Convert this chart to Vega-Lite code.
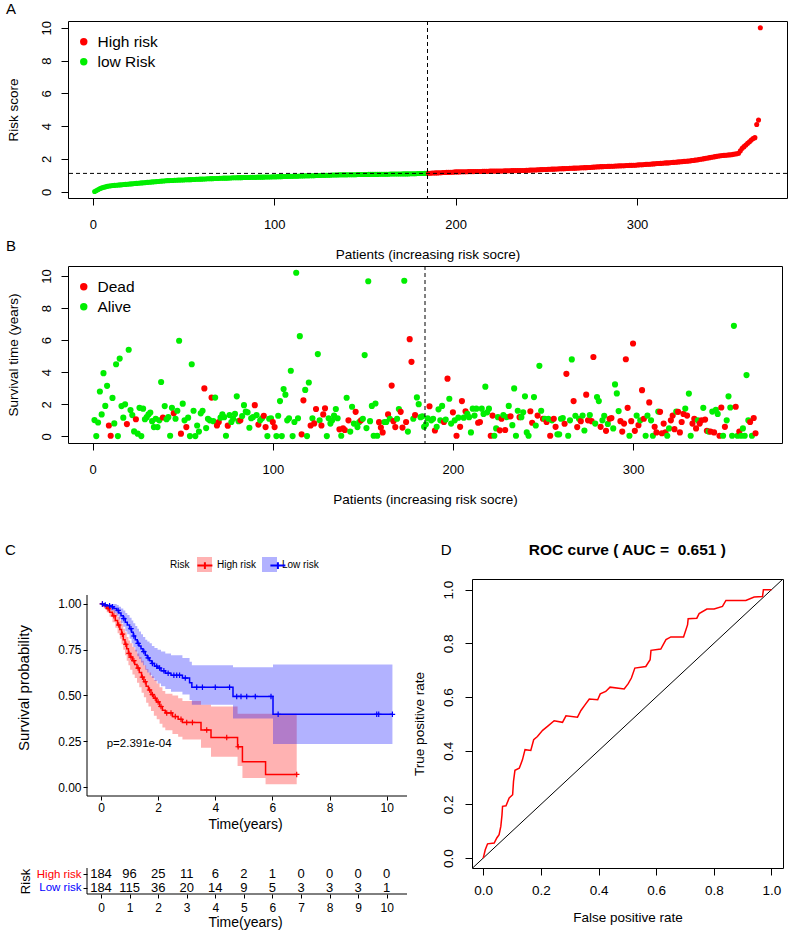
{
"$schema": "https://vega.github.io/schema/vega-lite/v6.json",
"padding": {"left": 4, "top": 1, "right": 2, "bottom": 2},
"config": {
  "font": "Liberation Sans",
  "view": {"stroke": null},
  "axis": {"grid": false, "domainColor": "black", "tickColor": "black", "labelColor": "black", "titleColor": "black", "titleFontWeight": "normal", "labelOverlap": false, "labelFlush": false},
  "legend": {"labelColor": "black", "titleColor": "black"},
  "title": {"color": "black"}
},
"datasets": {
"pts": [
{"i":1,"r":0.02,"g":"L","t":1.02,"s":"A"},{"i":2,"r":0.08,"g":"L","t":0.02,"s":"A"},{"i":3,"r":0.14,"g":"L","t":0.87,"s":"A"},{"i":4,"r":0.2,"g":"L","t":2.8,"s":"A"},{"i":5,"r":0.24,"g":"L","t":1.37,"s":"A"},
{"i":6,"r":0.27,"g":"L","t":3.94,"s":"A"},{"i":7,"r":0.3,"g":"L","t":1.9,"s":"A"},{"i":8,"r":0.33,"g":"L","t":3.15,"s":"A"},{"i":9,"r":0.35,"g":"L","t":0.68,"s":"D"},{"i":10,"r":0.37,"g":"L","t":0.04,"s":"D"},
{"i":11,"r":0.38,"g":"L","t":2.4,"s":"A"},{"i":12,"r":0.39,"g":"L","t":0.81,"s":"A"},{"i":13,"r":0.4,"g":"L","t":4.5,"s":"A"},{"i":14,"r":0.41,"g":"L","t":0.02,"s":"A"},{"i":15,"r":0.42,"g":"L","t":4.85,"s":"A"},
{"i":16,"r":0.43,"g":"L","t":1.89,"s":"A"},{"i":17,"r":0.44,"g":"L","t":1.17,"s":"A"},{"i":18,"r":0.45,"g":"L","t":2.0,"s":"A"},{"i":19,"r":0.46,"g":"L","t":0.77,"s":"D"},{"i":20,"r":0.47,"g":"L","t":5.4,"s":"A"},
{"i":21,"r":0.48,"g":"L","t":1.64,"s":"A"},{"i":22,"r":0.49,"g":"L","t":1.33,"s":"A"},{"i":23,"r":0.5,"g":"L","t":0.31,"s":"A"},{"i":24,"r":0.51,"g":"L","t":1.07,"s":"D"},{"i":25,"r":0.52,"g":"L","t":0.17,"s":"A"},
{"i":26,"r":0.53,"g":"L","t":1.78,"s":"A"},{"i":27,"r":0.54,"g":"L","t":0.02,"s":"A"},{"i":28,"r":0.55,"g":"L","t":1.73,"s":"A"},{"i":29,"r":0.56,"g":"L","t":1.07,"s":"A"},{"i":30,"r":0.57,"g":"L","t":1.2,"s":"A"},
{"i":31,"r":0.58,"g":"L","t":1.37,"s":"A"},{"i":32,"r":0.59,"g":"L","t":1.49,"s":"A"},{"i":33,"r":0.6,"g":"L","t":0.95,"s":"A"},{"i":34,"r":0.61,"g":"L","t":0.58,"s":"A"},{"i":35,"r":0.62,"g":"L","t":1.1,"s":"A"},
{"i":36,"r":0.63,"g":"L","t":0.58,"s":"A"},{"i":37,"r":0.64,"g":"L","t":1.0,"s":"A"},{"i":38,"r":0.65,"g":"L","t":3.39,"s":"A"},{"i":39,"r":0.66,"g":"L","t":1.18,"s":"D"},{"i":40,"r":0.67,"g":"L","t":1.89,"s":"A"},
{"i":41,"r":0.68,"g":"L","t":1.07,"s":"A"},{"i":42,"r":0.68,"g":"L","t":1.2,"s":"A"},{"i":43,"r":0.69,"g":"L","t":0.04,"s":"A"},{"i":44,"r":0.69,"g":"L","t":1.78,"s":"A"},{"i":45,"r":0.7,"g":"L","t":1.44,"s":"D"},
{"i":46,"r":0.7,"g":"L","t":1.1,"s":"A"},{"i":47,"r":0.71,"g":"L","t":1.6,"s":"A"},{"i":48,"r":0.71,"g":"L","t":5.96,"s":"A"},{"i":49,"r":0.72,"g":"L","t":0.17,"s":"D"},{"i":50,"r":0.72,"g":"L","t":2.04,"s":"A"},
{"i":51,"r":0.73,"g":"L","t":1.0,"s":"A"},{"i":52,"r":0.73,"g":"L","t":0.58,"s":"D"},{"i":53,"r":0.74,"g":"L","t":1.17,"s":"A"},{"i":54,"r":0.74,"g":"L","t":0.02,"s":"A"},{"i":55,"r":0.75,"g":"L","t":4.5,"s":"A"},
{"i":56,"r":0.75,"g":"L","t":1.6,"s":"A"},{"i":57,"r":0.76,"g":"L","t":0.02,"s":"A"},{"i":58,"r":0.76,"g":"L","t":0.68,"s":"A"},{"i":59,"r":0.77,"g":"L","t":0.3,"s":"A"},{"i":60,"r":0.77,"g":"L","t":1.44,"s":"A"},
{"i":61,"r":0.78,"g":"L","t":1.6,"s":"A"},{"i":62,"r":0.78,"g":"L","t":2.99,"s":"D"},{"i":63,"r":0.79,"g":"L","t":0.52,"s":"A"},{"i":64,"r":0.79,"g":"L","t":1.1,"s":"A"},{"i":65,"r":0.8,"g":"L","t":1.0,"s":"A"},
{"i":66,"r":0.8,"g":"L","t":2.42,"s":"D"},{"i":67,"r":0.81,"g":"L","t":0.95,"s":"A"},{"i":68,"r":0.81,"g":"L","t":2.42,"s":"A"},{"i":69,"r":0.81,"g":"L","t":0.68,"s":"D"},{"i":70,"r":0.82,"g":"L","t":0.9,"s":"D"},
{"i":71,"r":0.82,"g":"L","t":1.17,"s":"A"},{"i":72,"r":0.83,"g":"L","t":1.37,"s":"A"},{"i":73,"r":0.83,"g":"L","t":1.2,"s":"A"},{"i":74,"r":0.83,"g":"L","t":0.04,"s":"A"},{"i":75,"r":0.84,"g":"L","t":0.67,"s":"D"},
{"i":76,"r":0.84,"g":"L","t":1.33,"s":"A"},{"i":77,"r":0.85,"g":"L","t":0.9,"s":"A"},{"i":78,"r":0.85,"g":"L","t":1.1,"s":"A"},{"i":79,"r":0.85,"g":"L","t":1.4,"s":"A"},{"i":80,"r":0.86,"g":"L","t":2.5,"s":"A"},
{"i":81,"r":0.86,"g":"L","t":0.95,"s":"A"},{"i":82,"r":0.86,"g":"L","t":1.0,"s":"D"},{"i":83,"r":0.87,"g":"L","t":1.27,"s":"A"},{"i":84,"r":0.87,"g":"L","t":1.95,"s":"A"},{"i":85,"r":0.87,"g":"L","t":1.55,"s":"A"},
{"i":86,"r":0.87,"g":"L","t":1.5,"s":"A"},{"i":87,"r":0.88,"g":"L","t":0.54,"s":"A"},{"i":88,"r":0.88,"g":"L","t":1.13,"s":"A"},{"i":89,"r":0.88,"g":"L","t":1.2,"s":"A"},{"i":90,"r":0.88,"g":"L","t":1.95,"s":"D"},
{"i":91,"r":0.89,"g":"L","t":1.33,"s":"A"},{"i":92,"r":0.89,"g":"L","t":0.74,"s":"D"},{"i":93,"r":0.89,"g":"L","t":1.0,"s":"A"},{"i":94,"r":0.89,"g":"L","t":1.13,"s":"A"},{"i":95,"r":0.9,"g":"L","t":1.29,"s":"D"},
{"i":96,"r":0.9,"g":"L","t":0.58,"s":"D"},{"i":97,"r":0.9,"g":"L","t":0.02,"s":"A"},{"i":98,"r":0.9,"g":"L","t":1.1,"s":"A"},{"i":99,"r":0.91,"g":"L","t":1.13,"s":"A"},{"i":100,"r":0.91,"g":"L","t":0.9,"s":"D"},
{"i":101,"r":0.91,"g":"L","t":0.58,"s":"D"},{"i":102,"r":0.92,"g":"L","t":0.02,"s":"A"},{"i":103,"r":0.92,"g":"L","t":1.29,"s":"A"},{"i":104,"r":0.92,"g":"L","t":2.2,"s":"A"},{"i":105,"r":0.93,"g":"L","t":0.02,"s":"A"},
{"i":106,"r":0.93,"g":"L","t":2.95,"s":"A"},{"i":107,"r":0.93,"g":"L","t":2.6,"s":"A"},{"i":108,"r":0.94,"g":"L","t":1.0,"s":"A"},{"i":109,"r":0.94,"g":"L","t":1.13,"s":"A"},{"i":110,"r":0.94,"g":"L","t":4.09,"s":"A"},
{"i":111,"r":0.95,"g":"L","t":0.02,"s":"A"},{"i":112,"r":0.95,"g":"L","t":0.9,"s":"A"},{"i":113,"r":0.95,"g":"L","t":10.2,"s":"A"},{"i":114,"r":0.96,"g":"L","t":1.13,"s":"A"},{"i":115,"r":0.96,"g":"L","t":6.25,"s":"A"},
{"i":116,"r":0.96,"g":"L","t":0.13,"s":"D"},{"i":117,"r":0.97,"g":"L","t":2.25,"s":"D"},{"i":118,"r":0.97,"g":"L","t":2.9,"s":"A"},{"i":119,"r":0.97,"g":"L","t":0.02,"s":"A"},{"i":120,"r":0.98,"g":"L","t":3.36,"s":"A"},
{"i":121,"r":0.98,"g":"L","t":0.68,"s":"D"},{"i":122,"r":0.98,"g":"L","t":1.13,"s":"A"},{"i":123,"r":0.99,"g":"L","t":0.81,"s":"D"},{"i":124,"r":0.99,"g":"L","t":1.71,"s":"D"},{"i":125,"r":0.99,"g":"L","t":5.13,"s":"A"},
{"i":126,"r":1.0,"g":"L","t":1.0,"s":"A"},{"i":127,"r":1.0,"g":"L","t":0.68,"s":"D"},{"i":128,"r":1.0,"g":"L","t":1.37,"s":"D"},{"i":129,"r":1.01,"g":"L","t":1.75,"s":"D"},{"i":130,"r":1.01,"g":"L","t":0.02,"s":"A"},
{"i":131,"r":1.01,"g":"L","t":1.13,"s":"A"},{"i":132,"r":1.02,"g":"L","t":0.8,"s":"A"},{"i":133,"r":1.02,"g":"L","t":1.0,"s":"A"},{"i":134,"r":1.02,"g":"L","t":1.3,"s":"A"},{"i":135,"r":1.02,"g":"L","t":1.71,"s":"A"},
{"i":136,"r":1.03,"g":"L","t":1.13,"s":"A"},{"i":137,"r":1.03,"g":"L","t":0.44,"s":"D"},{"i":138,"r":1.03,"g":"L","t":0.04,"s":"A"},{"i":139,"r":1.03,"g":"L","t":0.5,"s":"D"},{"i":140,"r":1.03,"g":"L","t":0.4,"s":"D"},
{"i":141,"r":1.04,"g":"L","t":2.41,"s":"A"},{"i":142,"r":1.04,"g":"L","t":1.0,"s":"D"},{"i":143,"r":1.04,"g":"L","t":0.3,"s":"A"},{"i":144,"r":1.04,"g":"L","t":1.85,"s":"A"},{"i":145,"r":1.04,"g":"L","t":0.8,"s":"A"},
{"i":146,"r":1.05,"g":"L","t":1.53,"s":"D"},{"i":147,"r":1.05,"g":"L","t":0.58,"s":"A"},{"i":148,"r":1.05,"g":"L","t":0.9,"s":"A"},{"i":149,"r":1.05,"g":"L","t":1.0,"s":"D"},{"i":150,"r":1.05,"g":"L","t":1.1,"s":"A"},
{"i":151,"r":1.05,"g":"L","t":5.07,"s":"A"},{"i":152,"r":1.06,"g":"L","t":0.52,"s":"A"},{"i":153,"r":1.06,"g":"L","t":9.67,"s":"A"},{"i":154,"r":1.06,"g":"L","t":0.95,"s":"A"},{"i":155,"r":1.06,"g":"L","t":1.9,"s":"A"},
{"i":156,"r":1.06,"g":"L","t":0.04,"s":"A"},{"i":157,"r":1.06,"g":"L","t":2.05,"s":"A"},{"i":158,"r":1.07,"g":"L","t":0.04,"s":"A"},{"i":159,"r":1.07,"g":"L","t":0.89,"s":"D"},{"i":160,"r":1.07,"g":"L","t":0.55,"s":"D"},
{"i":161,"r":1.07,"g":"L","t":0.25,"s":"D"},{"i":162,"r":1.07,"g":"L","t":0.9,"s":"A"},{"i":163,"r":1.07,"g":"L","t":0.9,"s":"A"},{"i":164,"r":1.08,"g":"L","t":1.37,"s":"D"},{"i":165,"r":1.08,"g":"L","t":1.1,"s":"A"},
{"i":166,"r":1.08,"g":"L","t":3.17,"s":"D"},{"i":167,"r":1.08,"g":"L","t":0.95,"s":"D"},{"i":168,"r":1.08,"g":"L","t":0.58,"s":"D"},{"i":169,"r":1.08,"g":"L","t":1.1,"s":"A"},{"i":170,"r":1.08,"g":"L","t":1.71,"s":"A"},
{"i":171,"r":1.09,"g":"L","t":1.53,"s":"D"},{"i":172,"r":1.09,"g":"L","t":0.55,"s":"D"},{"i":173,"r":1.09,"g":"L","t":9.7,"s":"A"},{"i":174,"r":1.09,"g":"L","t":0.9,"s":"D"},{"i":175,"r":1.1,"g":"L","t":0.3,"s":"A"},
{"i":176,"r":1.1,"g":"L","t":6.06,"s":"D"},{"i":177,"r":1.1,"g":"L","t":4.65,"s":"D"},{"i":178,"r":1.1,"g":"L","t":1.1,"s":"A"},{"i":179,"r":1.11,"g":"L","t":1.33,"s":"D"},{"i":180,"r":1.11,"g":"L","t":2.43,"s":"A"},
{"i":181,"r":1.11,"g":"L","t":2.01,"s":"A"},{"i":182,"r":1.11,"g":"L","t":1.2,"s":"A"},{"i":183,"r":1.12,"g":"L","t":1.25,"s":"A"},{"i":184,"r":1.12,"g":"L","t":0.6,"s":"A"},
{"i":185,"r":1.13,"g":"H","t":0.76,"s":"A"},{"i":186,"r":1.13,"g":"H","t":1.13,"s":"A"},{"i":187,"r":1.14,"g":"H","t":1.88,"s":"D"},{"i":188,"r":1.14,"g":"H","t":1.0,"s":"A"},{"i":189,"r":1.15,"g":"H","t":1.1,"s":"A"},
{"i":190,"r":1.15,"g":"H","t":0.37,"s":"D"},{"i":191,"r":1.16,"g":"H","t":0.6,"s":"A"},{"i":192,"r":1.16,"g":"H","t":1.69,"s":"A"},{"i":193,"r":1.17,"g":"H","t":1.0,"s":"A"},{"i":194,"r":1.17,"g":"H","t":1.9,"s":"A"},
{"i":195,"r":1.18,"g":"H","t":0.9,"s":"D"},{"i":196,"r":1.18,"g":"H","t":1.05,"s":"A"},{"i":197,"r":1.19,"g":"H","t":3.6,"s":"D"},{"i":198,"r":1.19,"g":"H","t":2.35,"s":"A"},{"i":199,"r":1.2,"g":"H","t":0.8,"s":"A"},
{"i":200,"r":1.21,"g":"H","t":1.5,"s":"D"},{"i":201,"r":1.21,"g":"H","t":1.0,"s":"A"},{"i":202,"r":1.21,"g":"H","t":0.04,"s":"D"},{"i":203,"r":1.22,"g":"H","t":1.17,"s":"A"},{"i":204,"r":1.22,"g":"H","t":0.6,"s":"D"},
{"i":205,"r":1.22,"g":"H","t":2.2,"s":"D"},{"i":206,"r":1.22,"g":"H","t":1.17,"s":"A"},{"i":207,"r":1.23,"g":"H","t":1.57,"s":"D"},{"i":208,"r":1.23,"g":"H","t":1.4,"s":"A"},{"i":209,"r":1.23,"g":"H","t":1.2,"s":"A"},
{"i":210,"r":1.23,"g":"H","t":0.25,"s":"A"},{"i":211,"r":1.24,"g":"H","t":1.73,"s":"A"},{"i":212,"r":1.24,"g":"H","t":1.3,"s":"A"},{"i":213,"r":1.24,"g":"H","t":1.73,"s":"A"},{"i":214,"r":1.24,"g":"H","t":0.85,"s":"D"},
{"i":215,"r":1.25,"g":"H","t":0.9,"s":"D"},{"i":216,"r":1.25,"g":"H","t":1.73,"s":"A"},{"i":217,"r":1.25,"g":"H","t":1.4,"s":"A"},{"i":218,"r":1.25,"g":"H","t":3.1,"s":"A"},{"i":219,"r":1.26,"g":"H","t":1.5,"s":"A"},
{"i":220,"r":1.26,"g":"H","t":1.73,"s":"A"},{"i":221,"r":1.26,"g":"H","t":0.04,"s":"D"},{"i":222,"r":1.26,"g":"H","t":1.3,"s":"D"},{"i":223,"r":1.27,"g":"H","t":0.04,"s":"A"},{"i":224,"r":1.27,"g":"H","t":0.5,"s":"A"},
{"i":225,"r":1.27,"g":"H","t":1.2,"s":"A"},{"i":226,"r":1.27,"g":"H","t":0.38,"s":"D"},{"i":227,"r":1.28,"g":"H","t":1.1,"s":"D"},{"i":228,"r":1.28,"g":"H","t":1.33,"s":"A"},{"i":229,"r":1.28,"g":"H","t":0.4,"s":"D"},
{"i":230,"r":1.28,"g":"H","t":1.2,"s":"A"},{"i":231,"r":1.29,"g":"H","t":1.9,"s":"A"},{"i":232,"r":1.29,"g":"H","t":1.25,"s":"D"},{"i":233,"r":1.29,"g":"H","t":0.7,"s":"A"},{"i":234,"r":1.29,"g":"H","t":2.99,"s":"A"},
{"i":235,"r":1.3,"g":"H","t":0.04,"s":"A"},{"i":236,"r":1.3,"g":"H","t":1.6,"s":"A"},{"i":237,"r":1.3,"g":"H","t":1.2,"s":"D"},{"i":238,"r":1.3,"g":"H","t":1.2,"s":"A"},{"i":239,"r":1.31,"g":"H","t":1.5,"s":"A"},
{"i":240,"r":1.31,"g":"H","t":2.5,"s":"A"},{"i":241,"r":1.32,"g":"H","t":0.25,"s":"A"},{"i":242,"r":1.32,"g":"H","t":0.04,"s":"A"},{"i":243,"r":1.33,"g":"H","t":1.57,"s":"D"},{"i":244,"r":1.33,"g":"H","t":0.85,"s":"D"},
{"i":245,"r":1.34,"g":"H","t":2.45,"s":"A"},{"i":246,"r":1.34,"g":"H","t":0.68,"s":"A"},{"i":247,"r":1.35,"g":"H","t":1.3,"s":"D"},{"i":248,"r":1.35,"g":"H","t":4.4,"s":"A"},{"i":249,"r":1.36,"g":"H","t":1.6,"s":"A"},
{"i":250,"r":1.36,"g":"H","t":1.1,"s":"D"},{"i":251,"r":1.37,"g":"H","t":1.1,"s":"A"},{"i":252,"r":1.37,"g":"H","t":0.9,"s":"D"},{"i":253,"r":1.38,"g":"H","t":1.1,"s":"A"},{"i":254,"r":1.38,"g":"H","t":0.04,"s":"D"},
{"i":255,"r":1.39,"g":"H","t":1.0,"s":"A"},{"i":256,"r":1.39,"g":"H","t":1.1,"s":"D"},{"i":257,"r":1.4,"g":"H","t":0.6,"s":"D"},{"i":258,"r":1.4,"g":"H","t":0.13,"s":"A"},{"i":259,"r":1.41,"g":"H","t":0.13,"s":"A"},
{"i":260,"r":1.41,"g":"H","t":1.1,"s":"A"},{"i":261,"r":1.42,"g":"H","t":1.15,"s":"A"},{"i":262,"r":1.42,"g":"H","t":0.79,"s":"D"},{"i":263,"r":1.43,"g":"H","t":3.9,"s":"D"},{"i":264,"r":1.43,"g":"H","t":0.04,"s":"A"},
{"i":265,"r":1.44,"g":"H","t":1.0,"s":"A"},{"i":266,"r":1.44,"g":"H","t":4.8,"s":"A"},{"i":267,"r":1.45,"g":"H","t":2.2,"s":"D"},{"i":268,"r":1.45,"g":"H","t":1.29,"s":"A"},{"i":269,"r":1.46,"g":"H","t":0.58,"s":"D"},
{"i":270,"r":1.46,"g":"H","t":1.1,"s":"A"},{"i":271,"r":1.47,"g":"H","t":0.95,"s":"D"},{"i":272,"r":1.47,"g":"H","t":1.3,"s":"A"},{"i":273,"r":1.48,"g":"H","t":0.37,"s":"A"},{"i":274,"r":1.48,"g":"H","t":2.6,"s":"D"},
{"i":275,"r":1.49,"g":"H","t":1.0,"s":"D"},{"i":276,"r":1.5,"g":"H","t":1.33,"s":"A"},{"i":277,"r":1.51,"g":"H","t":0.95,"s":"D"},{"i":278,"r":1.52,"g":"H","t":4.95,"s":"D"},{"i":279,"r":1.52,"g":"H","t":0.8,"s":"A"},
{"i":280,"r":1.53,"g":"H","t":2.45,"s":"A"},{"i":281,"r":1.53,"g":"H","t":2.2,"s":"A"},{"i":282,"r":1.54,"g":"H","t":0.6,"s":"D"},{"i":283,"r":1.54,"g":"H","t":1.0,"s":"A"},{"i":284,"r":1.55,"g":"H","t":1.29,"s":"A"},
{"i":285,"r":1.55,"g":"H","t":0.35,"s":"D"},{"i":286,"r":1.56,"g":"H","t":0.78,"s":"A"},{"i":287,"r":1.56,"g":"H","t":1.1,"s":"D"},{"i":288,"r":1.57,"g":"H","t":1.15,"s":"D"},{"i":289,"r":1.57,"g":"H","t":0.5,"s":"A"},
{"i":290,"r":1.58,"g":"H","t":3.24,"s":"A"},{"i":291,"r":1.58,"g":"H","t":2.68,"s":"A"},{"i":292,"r":1.59,"g":"H","t":1.58,"s":"A"},{"i":293,"r":1.59,"g":"H","t":0.95,"s":"D"},{"i":294,"r":1.6,"g":"H","t":0.3,"s":"D"},
{"i":295,"r":1.6,"g":"H","t":0.8,"s":"D"},{"i":296,"r":1.61,"g":"H","t":4.81,"s":"D"},{"i":297,"r":1.61,"g":"H","t":1.78,"s":"D"},{"i":298,"r":1.62,"g":"H","t":0.04,"s":"A"},{"i":299,"r":1.62,"g":"H","t":0.95,"s":"D"},
{"i":300,"r":1.63,"g":"H","t":5.79,"s":"D"},{"i":301,"r":1.64,"g":"H","t":0.35,"s":"D"},{"i":302,"r":1.65,"g":"H","t":1.3,"s":"A"},{"i":303,"r":1.65,"g":"H","t":0.7,"s":"D"},{"i":304,"r":1.66,"g":"H","t":1.0,"s":"A"},
{"i":305,"r":1.67,"g":"H","t":2.88,"s":"D"},{"i":306,"r":1.68,"g":"H","t":1.1,"s":"D"},{"i":307,"r":1.68,"g":"H","t":0.04,"s":"A"},{"i":308,"r":1.69,"g":"H","t":1.3,"s":"A"},{"i":309,"r":1.7,"g":"H","t":2.12,"s":"D"},
{"i":310,"r":1.71,"g":"H","t":1.0,"s":"A"},{"i":311,"r":1.72,"g":"H","t":0.04,"s":"A"},{"i":312,"r":1.72,"g":"H","t":0.6,"s":"D"},{"i":313,"r":1.73,"g":"H","t":0.25,"s":"D"},{"i":314,"r":1.74,"g":"H","t":1.55,"s":"A"},
{"i":315,"r":1.75,"g":"H","t":1.53,"s":"D"},{"i":316,"r":1.76,"g":"H","t":0.2,"s":"D"},{"i":317,"r":1.76,"g":"H","t":0.8,"s":"D"},{"i":318,"r":1.77,"g":"H","t":0.25,"s":"D"},{"i":319,"r":1.78,"g":"H","t":0.04,"s":"A"},
{"i":320,"r":1.79,"g":"H","t":0.5,"s":"A"},{"i":321,"r":1.8,"g":"H","t":1.0,"s":"D"},{"i":322,"r":1.81,"g":"H","t":1.3,"s":"D"},{"i":323,"r":1.82,"g":"H","t":0.45,"s":"D"},{"i":324,"r":1.83,"g":"H","t":1.55,"s":"A"},
{"i":325,"r":1.84,"g":"H","t":1.53,"s":"D"},{"i":326,"r":1.85,"g":"H","t":0.25,"s":"D"},{"i":327,"r":1.86,"g":"H","t":0.9,"s":"D"},{"i":328,"r":1.87,"g":"H","t":1.4,"s":"D"},{"i":329,"r":1.88,"g":"H","t":1.74,"s":"A"},
{"i":330,"r":1.9,"g":"H","t":1.3,"s":"D"},{"i":331,"r":1.91,"g":"H","t":2.67,"s":"A"},{"i":332,"r":1.93,"g":"H","t":0.04,"s":"A"},{"i":333,"r":1.94,"g":"H","t":0.8,"s":"D"},{"i":334,"r":1.96,"g":"H","t":1.1,"s":"D"},
{"i":335,"r":1.98,"g":"H","t":0.5,"s":"D"},{"i":336,"r":2.0,"g":"H","t":1.0,"s":"A"},{"i":337,"r":2.02,"g":"H","t":0.8,"s":"D"},{"i":338,"r":2.04,"g":"H","t":1.0,"s":"D"},{"i":339,"r":2.06,"g":"H","t":1.78,"s":"A"},
{"i":340,"r":2.08,"g":"H","t":1.05,"s":"D"},{"i":341,"r":2.1,"g":"H","t":0.35,"s":"D"},{"i":342,"r":2.12,"g":"H","t":0.3,"s":"A"},{"i":343,"r":2.14,"g":"H","t":0.3,"s":"D"},{"i":344,"r":2.16,"g":"H","t":1.55,"s":"A"},
{"i":345,"r":2.18,"g":"H","t":0.25,"s":"D"},{"i":346,"r":2.2,"g":"H","t":1.65,"s":"A"},{"i":347,"r":2.21,"g":"H","t":1.4,"s":"A"},{"i":348,"r":2.22,"g":"H","t":0.04,"s":"D"},{"i":349,"r":2.23,"g":"H","t":1.8,"s":"D"},
{"i":350,"r":2.24,"g":"H","t":0.04,"s":"A"},{"i":351,"r":2.25,"g":"H","t":0.6,"s":"D"},{"i":352,"r":2.26,"g":"H","t":1.0,"s":"A"},{"i":353,"r":2.28,"g":"H","t":2.5,"s":"A"},{"i":354,"r":2.3,"g":"H","t":1.8,"s":"A"},
{"i":355,"r":2.32,"g":"H","t":0.04,"s":"A"},{"i":356,"r":2.35,"g":"H","t":6.89,"s":"A"},{"i":357,"r":2.5,"g":"H","t":1.85,"s":"D"},{"i":358,"r":2.65,"g":"H","t":0.04,"s":"A"},{"i":359,"r":2.75,"g":"H","t":0.3,"s":"D"},
{"i":360,"r":2.85,"g":"H","t":0.04,"s":"A"},{"i":361,"r":2.95,"g":"H","t":0.5,"s":"A"},{"i":362,"r":3.05,"g":"H","t":0.04,"s":"A"},{"i":363,"r":3.15,"g":"H","t":3.82,"s":"A"},{"i":364,"r":3.25,"g":"H","t":1.0,"s":"A"},
{"i":365,"r":3.3,"g":"H","t":0.9,"s":"D"},{"i":366,"r":4.1,"g":"H","t":0.04,"s":"A"},{"i":367,"r":4.37,"g":"H","t":1.15,"s":"D"},{"i":368,"r":10.0,"g":"H","t":0.2,"s":"D"}
],
"km": [
{"grp":"High risk","t":0,"s":1,"lo":1,"hi":1},{"grp":"High risk","t":0.1,"s":0.99,"lo":0.975,"hi":1},{"grp":"High risk","t":0.2,"s":0.975,"lo":0.955,"hi":0.995},
{"grp":"High risk","t":0.3,"s":0.955,"lo":0.93,"hi":0.985},{"grp":"High risk","t":0.4,"s":0.935,"lo":0.9,"hi":0.97},{"grp":"High risk","t":0.5,"s":0.91,"lo":0.87,"hi":0.95},
{"grp":"High risk","t":0.58,"s":0.885,"lo":0.84,"hi":0.93},{"grp":"High risk","t":0.66,"s":0.86,"lo":0.81,"hi":0.91},{"grp":"High risk","t":0.72,"s":0.835,"lo":0.78,"hi":0.89},
{"grp":"High risk","t":0.78,"s":0.805,"lo":0.75,"hi":0.865},{"grp":"High risk","t":0.84,"s":0.78,"lo":0.72,"hi":0.845},{"grp":"High risk","t":0.9,"s":0.755,"lo":0.69,"hi":0.82},
{"grp":"High risk","t":0.96,"s":0.73,"lo":0.665,"hi":0.8},{"grp":"High risk","t":1.02,"s":0.71,"lo":0.64,"hi":0.785},{"grp":"High risk","t":1.1,"s":0.69,"lo":0.615,"hi":0.765},
{"grp":"High risk","t":1.18,"s":0.67,"lo":0.595,"hi":0.75},{"grp":"High risk","t":1.26,"s":0.65,"lo":0.57,"hi":0.73},{"grp":"High risk","t":1.34,"s":0.625,"lo":0.545,"hi":0.71},
{"grp":"High risk","t":1.42,"s":0.6,"lo":0.515,"hi":0.69},{"grp":"High risk","t":1.5,"s":0.575,"lo":0.49,"hi":0.665},{"grp":"High risk","t":1.58,"s":0.55,"lo":0.46,"hi":0.645},
{"grp":"High risk","t":1.66,"s":0.53,"lo":0.44,"hi":0.625},{"grp":"High risk","t":1.75,"s":0.505,"lo":0.415,"hi":0.605},{"grp":"High risk","t":1.85,"s":0.485,"lo":0.39,"hi":0.585},
{"grp":"High risk","t":1.95,"s":0.465,"lo":0.37,"hi":0.565},{"grp":"High risk","t":2.05,"s":0.44,"lo":0.345,"hi":0.545},{"grp":"High risk","t":2.15,"s":0.42,"lo":0.325,"hi":0.525},
{"grp":"High risk","t":2.25,"s":0.405,"lo":0.31,"hi":0.51},{"grp":"High risk","t":2.5,"s":0.385,"lo":0.29,"hi":0.5},{"grp":"High risk","t":2.7,"s":0.37,"lo":0.275,"hi":0.485},
{"grp":"High risk","t":2.85,"s":0.353,"lo":0.26,"hi":0.47},{"grp":"High risk","t":3.5,"s":0.312,"lo":0.215,"hi":0.45},{"grp":"High risk","t":3.85,"s":0.27,"lo":0.165,"hi":0.44},
{"grp":"High risk","t":4.78,"s":0.22,"lo":0.115,"hi":0.4},{"grp":"High risk","t":4.95,"s":0.138,"lo":0.05,"hi":0.4},{"grp":"High risk","t":5.76,"s":0.069,"lo":0.015,"hi":0.4},
{"grp":"High risk","t":6.85,"s":0.069,"lo":0.015,"hi":0.4},
{"grp":"Low risk","t":0,"s":1,"lo":1,"hi":1},{"grp":"Low risk","t":0.1,"s":0.995,"lo":0.985,"hi":1},{"grp":"Low risk","t":0.2,"s":0.99,"lo":0.975,"hi":1},
{"grp":"Low risk","t":0.35,"s":0.985,"lo":0.965,"hi":1},{"grp":"Low risk","t":0.45,"s":0.975,"lo":0.95,"hi":1},{"grp":"Low risk","t":0.55,"s":0.965,"lo":0.935,"hi":0.995},
{"grp":"Low risk","t":0.62,"s":0.95,"lo":0.915,"hi":0.985},{"grp":"Low risk","t":0.7,"s":0.935,"lo":0.895,"hi":0.975},{"grp":"Low risk","t":0.78,"s":0.92,"lo":0.875,"hi":0.965},
{"grp":"Low risk","t":0.85,"s":0.9,"lo":0.85,"hi":0.95},{"grp":"Low risk","t":0.92,"s":0.885,"lo":0.835,"hi":0.94},{"grp":"Low risk","t":1.0,"s":0.865,"lo":0.81,"hi":0.925},
{"grp":"Low risk","t":1.07,"s":0.845,"lo":0.785,"hi":0.91},{"grp":"Low risk","t":1.13,"s":0.825,"lo":0.765,"hi":0.895},{"grp":"Low risk","t":1.2,"s":0.805,"lo":0.74,"hi":0.88},
{"grp":"Low risk","t":1.27,"s":0.785,"lo":0.715,"hi":0.865},{"grp":"Low risk","t":1.33,"s":0.77,"lo":0.7,"hi":0.85},{"grp":"Low risk","t":1.4,"s":0.755,"lo":0.68,"hi":0.835},
{"grp":"Low risk","t":1.47,"s":0.74,"lo":0.665,"hi":0.82},{"grp":"Low risk","t":1.55,"s":0.72,"lo":0.64,"hi":0.805},{"grp":"Low risk","t":1.62,"s":0.705,"lo":0.625,"hi":0.795},
{"grp":"Low risk","t":1.7,"s":0.69,"lo":0.61,"hi":0.785},{"grp":"Low risk","t":1.78,"s":0.675,"lo":0.595,"hi":0.77},{"grp":"Low risk","t":1.87,"s":0.66,"lo":0.58,"hi":0.76},
{"grp":"Low risk","t":1.98,"s":0.65,"lo":0.565,"hi":0.75},{"grp":"Low risk","t":2.1,"s":0.635,"lo":0.55,"hi":0.74},{"grp":"Low risk","t":2.25,"s":0.622,"lo":0.535,"hi":0.73},
{"grp":"Low risk","t":2.45,"s":0.61,"lo":0.52,"hi":0.72},{"grp":"Low risk","t":2.85,"s":0.595,"lo":0.505,"hi":0.705},{"grp":"Low risk","t":3.1,"s":0.57,"lo":0.475,"hi":0.685},
{"grp":"Low risk","t":3.18,"s":0.545,"lo":0.45,"hi":0.665},{"grp":"Low risk","t":4.62,"s":0.495,"lo":0.375,"hi":0.655},{"grp":"Low risk","t":6.02,"s":0.397,"lo":0.235,"hi":0.67},
{"grp":"Low risk","t":10.2,"s":0.397,"lo":0.235,"hi":0.67}
],
"cens": [
{"grp":"High risk","t":0.05,"s":1.0},{"grp":"High risk","t":0.25,"s":0.975},{"grp":"High risk","t":0.45,"s":0.935},{"grp":"High risk","t":0.62,"s":0.885},
{"grp":"High risk","t":0.75,"s":0.835},{"grp":"High risk","t":0.87,"s":0.78},{"grp":"High risk","t":0.98,"s":0.73},{"grp":"High risk","t":1.05,"s":0.71},
{"grp":"High risk","t":1.15,"s":0.69},{"grp":"High risk","t":1.3,"s":0.65},{"grp":"High risk","t":1.45,"s":0.6},{"grp":"High risk","t":1.55,"s":0.575},
{"grp":"High risk","t":1.7,"s":0.53},{"grp":"High risk","t":1.8,"s":0.505},{"grp":"High risk","t":1.9,"s":0.485},{"grp":"High risk","t":2.0,"s":0.465},
{"grp":"High risk","t":2.1,"s":0.44},{"grp":"High risk","t":2.3,"s":0.405},{"grp":"High risk","t":2.45,"s":0.405},{"grp":"High risk","t":2.6,"s":0.385},
{"grp":"High risk","t":2.8,"s":0.37},{"grp":"High risk","t":3.0,"s":0.353},{"grp":"High risk","t":3.2,"s":0.353},{"grp":"High risk","t":3.7,"s":0.312},
{"grp":"High risk","t":4.4,"s":0.27},{"grp":"High risk","t":4.8,"s":0.22},{"grp":"High risk","t":6.85,"s":0.069},
{"grp":"Low risk","t":0.05,"s":1.0},{"grp":"Low risk","t":0.15,"s":0.995},{"grp":"Low risk","t":0.3,"s":0.99},{"grp":"Low risk","t":0.4,"s":0.985},
{"grp":"Low risk","t":0.6,"s":0.965},{"grp":"Low risk","t":0.8,"s":0.92},{"grp":"Low risk","t":1.05,"s":0.865},{"grp":"Low risk","t":1.15,"s":0.825},
{"grp":"Low risk","t":1.3,"s":0.785},{"grp":"Low risk","t":1.5,"s":0.74},{"grp":"Low risk","t":1.65,"s":0.705},{"grp":"Low risk","t":1.8,"s":0.675},
{"grp":"Low risk","t":1.95,"s":0.66},{"grp":"Low risk","t":2.05,"s":0.65},{"grp":"Low risk","t":2.2,"s":0.635},{"grp":"Low risk","t":2.35,"s":0.622},
{"grp":"Low risk","t":2.55,"s":0.61},{"grp":"Low risk","t":2.65,"s":0.61},{"grp":"Low risk","t":2.75,"s":0.61},{"grp":"Low risk","t":2.95,"s":0.595},
{"grp":"Low risk","t":3.35,"s":0.545},{"grp":"Low risk","t":3.55,"s":0.545},{"grp":"Low risk","t":4.0,"s":0.545},{"grp":"Low risk","t":4.5,"s":0.545},
{"grp":"Low risk","t":4.75,"s":0.495},{"grp":"Low risk","t":4.9,"s":0.495},{"grp":"Low risk","t":5.1,"s":0.495},{"grp":"Low risk","t":5.4,"s":0.495},
{"grp":"Low risk","t":5.95,"s":0.495},{"grp":"Low risk","t":6.2,"s":0.397},{"grp":"Low risk","t":9.65,"s":0.397},{"grp":"Low risk","t":9.72,"s":0.397},
{"grp":"Low risk","t":10.2,"s":0.397}
],
"risk": [
{"grp":"High risk","row":1,"t":0,"n":184},{"grp":"High risk","row":1,"t":1,"n":96},{"grp":"High risk","row":1,"t":2,"n":25},{"grp":"High risk","row":1,"t":3,"n":11},{"grp":"High risk","row":1,"t":4,"n":6},{"grp":"High risk","row":1,"t":5,"n":2},
{"grp":"High risk","row":1,"t":6,"n":1},{"grp":"High risk","row":1,"t":7,"n":0},{"grp":"High risk","row":1,"t":8,"n":0},{"grp":"High risk","row":1,"t":9,"n":0},{"grp":"High risk","row":1,"t":10,"n":0},
{"grp":"Low risk","row":2,"t":0,"n":184},{"grp":"Low risk","row":2,"t":1,"n":115},{"grp":"Low risk","row":2,"t":2,"n":36},{"grp":"Low risk","row":2,"t":3,"n":20},{"grp":"Low risk","row":2,"t":4,"n":14},{"grp":"Low risk","row":2,"t":5,"n":9},
{"grp":"Low risk","row":2,"t":6,"n":5},{"grp":"Low risk","row":2,"t":7,"n":3},{"grp":"Low risk","row":2,"t":8,"n":3},{"grp":"Low risk","row":2,"t":9,"n":3},{"grp":"Low risk","row":2,"t":10,"n":1}
],
"roc": [
{"fp":0,"tp":0},{"fp":0.007,"tp":0.031},{"fp":0.015,"tp":0.053},{"fp":0.038,"tp":0.056},{"fp":0.047,"tp":0.075},{"fp":0.055,"tp":0.087},
{"fp":0.061,"tp":0.118},{"fp":0.065,"tp":0.16},{"fp":0.067,"tp":0.193},{"fp":0.079,"tp":0.195},{"fp":0.09,"tp":0.224},{"fp":0.102,"tp":0.236},
{"fp":0.105,"tp":0.286},{"fp":0.11,"tp":0.327},{"fp":0.125,"tp":0.335},{"fp":0.136,"tp":0.366},{"fp":0.145,"tp":0.404},{"fp":0.165,"tp":0.401},
{"fp":0.175,"tp":0.441},{"fp":0.188,"tp":0.453},{"fp":0.206,"tp":0.476},{"fp":0.223,"tp":0.491},{"fp":0.246,"tp":0.512},{"fp":0.275,"tp":0.506},
{"fp":0.287,"tp":0.53},{"fp":0.327,"tp":0.525},{"fp":0.339,"tp":0.55},{"fp":0.353,"tp":0.571},{"fp":0.368,"tp":0.593},{"fp":0.397,"tp":0.59},
{"fp":0.406,"tp":0.612},{"fp":0.425,"tp":0.621},{"fp":0.44,"tp":0.637},{"fp":0.489,"tp":0.63},{"fp":0.503,"tp":0.65},{"fp":0.514,"tp":0.671},
{"fp":0.526,"tp":0.708},{"fp":0.564,"tp":0.714},{"fp":0.579,"tp":0.739},{"fp":0.582,"tp":0.774},{"fp":0.616,"tp":0.779},{"fp":0.634,"tp":0.814},
{"fp":0.651,"tp":0.824},{"fp":0.695,"tp":0.824},{"fp":0.709,"tp":0.87},{"fp":0.711,"tp":0.892},{"fp":0.741,"tp":0.894},{"fp":0.749,"tp":0.911},
{"fp":0.776,"tp":0.928},{"fp":0.801,"tp":0.928},{"fp":0.83,"tp":0.938},{"fp":0.842,"tp":0.96},{"fp":0.911,"tp":0.96},{"fp":0.94,"tp":0.973},
{"fp":0.969,"tp":0.975},{"fp":0.972,"tp":1.0},{"fp":1.0,"tp":1.0}
],
"diag": [{"fp":-0.1,"tp":-0.1},{"fp":1.1,"tp":1.1}],
"labels": [{"lab":"C","t":-3.36,"s":1.268},{"lab":"D","fp":-0.147,"tp":1.13},{"lab":"ROC curve ( AUC =\u00a0\u00a00.651 )","fp":0.5,"tp":1.13},{"lab":"p=2.391e-04","t":0.2,"s":0.235}],
"caxes": [{"t":-0.49,"t2":10.71,"s":-0.049,"s2":-0.049},{"t":-0.49,"t2":-0.49,"s":-0.049,"s2":1.049}],
"taxes": [{"t":-0.49,"t2":10.71,"row":2.43,"row2":2.43},{"t":-0.49,"t2":-0.49,"row":0.571,"row2":2.43}]
},
"resolve": {"scale": {"color": "independent", "fill": "independent", "stroke": "independent"}, "legend": {"color": "independent", "fill": "independent", "stroke": "independent"}},
"columns": 1,
"align": "none",
"spacing": 36,
"concat": [
 {"bounds": "flush", "spacing": 68, "resolve": {"scale": {"color": "independent"}, "legend": {"color": "independent"}}, "vconcat": [
  {
   "width": 719, "height": 177,
   "view": {"stroke": "black", "strokeWidth": 1},
   "title": {"text": "A", "anchor": "start", "frame": "group", "dx": -62, "offset": 3, "fontSize": 15, "fontWeight": "normal"},
   "layer": [
    {"data": {"name": "pts"}, "mark": {"type": "circle", "size": 26, "opacity": 1},
     "encoding": {
      "x": {"field": "i", "type": "quantitative", "scale": {"domain": [-13.7, 382.7], "nice": false, "zero": false},
        "axis": {"values": [0,100,200,300], "title": "Patients (increasing risk socre)", "domain": false, "tickSize": 7, "labelFontSize": 13, "labelPadding": 13, "titleFontSize": 13.5, "titlePadding": 16, "labelOverlap": false}},
      "y": {"field": "r", "type": "quantitative", "scale": {"domain": [-0.38, 10.41], "nice": false, "zero": false},
        "axis": {"values": [0,2,4,6,8,10], "title": "Risk score", "domain": false, "tickSize": 7, "labelAngle": -90, "labelAlign": "center", "labelBaseline": "bottom", "labelFontSize": 13, "labelPadding": 8, "titleFontSize": 13.5, "titlePadding": 20, "labelOverlap": false}},
      "color": {"field": "g", "type": "nominal", "scale": {"domain": ["H","L"], "range": ["#FF0000","#00EE00"]},
        "legend": {"orient": "none", "legendX": 8, "legendY": 13, "title": null, "labelExpr": "datum.label == 'H' ? 'High risk' : 'low Risk'", "symbolType": "circle", "symbolSize": 55, "labelFontSize": 15.5, "rowPadding": 3, "padding": 0, "labelOffset": 6}}
     }},
    {"data": {"values": [{"r": 1.12}]}, "mark": {"type": "rule", "strokeDash": [4,3], "color": "black"},
     "encoding": {"y": {"field": "r", "type": "quantitative",
        "axis": {"values": [0,2,4,6,8,10], "title": "Risk score", "domain": false, "tickSize": 7, "labelAngle": -90, "labelAlign": "center", "labelBaseline": "bottom", "labelFontSize": 13, "labelPadding": 8, "titleFontSize": 13.5, "titlePadding": 20, "labelOverlap": false}}}},
    {"data": {"values": [{"i": 184.5}]}, "mark": {"type": "rule", "strokeDash": [4,3], "color": "black"},
     "encoding": {"x": {"field": "i", "type": "quantitative",
        "axis": {"values": [0,100,200,300], "title": "Patients (increasing risk socre)", "domain": false, "tickSize": 7, "labelFontSize": 13, "labelPadding": 13, "titleFontSize": 13.5, "titlePadding": 16, "labelOverlap": false}}}}
   ]
  },
  {
   "width": 714, "height": 177,
   "view": {"stroke": "black", "strokeWidth": 1},
   "title": {"text": "B", "anchor": "start", "frame": "group", "dx": -62, "offset": 12, "fontSize": 15, "fontWeight": "normal"},
   "layer": [
    {"data": {"name": "pts"}, "mark": {"type": "circle", "size": 38, "opacity": 1},
     "encoding": {
      "x": {"field": "i", "type": "quantitative", "scale": {"domain": [-13.7, 382.7], "nice": false, "zero": false},
        "axis": {"values": [0,100,200,300], "title": "Patients (increasing risk socre)", "domain": false, "tickSize": 7, "labelFontSize": 13, "labelPadding": 13, "titleFontSize": 13.5, "titlePadding": 16, "labelOverlap": false}},
      "y": {"field": "t", "type": "quantitative", "scale": {"domain": [-0.41, 10.62], "nice": false, "zero": false},
        "axis": {"values": [0,2,4,6,8,10], "title": "Survival time (years)", "domain": false, "tickSize": 7, "labelAngle": -90, "labelAlign": "center", "labelBaseline": "bottom", "labelFontSize": 13, "labelPadding": 8, "titleFontSize": 13.5, "titlePadding": 20, "labelOverlap": false}},
      "color": {"field": "s", "type": "nominal", "scale": {"domain": ["D","A"], "range": ["#FF0000","#00EE00"]},
        "legend": {"orient": "none", "legendX": 8, "legendY": 13, "title": null, "labelExpr": "datum.label == 'D' ? 'Dead' : 'Alive'", "symbolType": "circle", "symbolSize": 55, "labelFontSize": 15.5, "rowPadding": 3, "padding": 0, "labelOffset": 6}}
     }},
    {"data": {"values": [{"i": 184.5}]}, "mark": {"type": "rule", "strokeDash": [4,3], "color": "black"},
     "encoding": {"x": {"field": "i", "type": "quantitative",
        "axis": {"values": [0,100,200,300], "title": "Patients (increasing risk socre)", "domain": false, "tickSize": 7, "labelFontSize": 13, "labelPadding": 13, "titleFontSize": 13.5, "titlePadding": 16, "labelOverlap": false}}}}
   ]
  }
 ]},
 {"align": "none", "spacing": 3, "resolve": {"scale": {"fill": "independent", "stroke": "independent"}, "legend": {"fill": "independent", "stroke": "independent"}}, "concat": [
  {"bounds": "flush", "spacing": 72, "resolve": {"scale": {"fill": "independent", "stroke": "independent"}, "legend": {"fill": "independent", "stroke": "independent"}}, "vconcat": [
   {
    "width": 339, "height": 217,
    "layer": [
     {"data": {"name": "km"}, "mark": {"type": "area", "interpolate": "step-after", "fillOpacity": 0.3},
      "encoding": {
       "x": {"field": "t", "type": "quantitative", "scale": {"domain": [-1.155, 10.71], "nice": false, "zero": false},
         "axis": {"values": [0,1,2,3,4,5,6,7,8,9,10], "title": "Time(years)", "titleX": 177, "domain": false, "tickSize": 4, "labelPadding": 2, "labelFontSize": 12, "titleFontSize": 14, "titlePadding": 4}},
       "y": {"field": "lo", "type": "quantitative", "scale": {"domain": [-0.049, 1.1364], "nice": false, "zero": false},
         "axis": {"values": [0,0.25,0.5,0.75,1], "format": ".2f", "title": "Survival probability", "offset": -19, "domain": false, "tickSize": 4, "labelPadding": 2, "labelFontSize": 12, "titleFontSize": 15, "titlePadding": 26}},
       "y2": {"field": "hi"},
       "fill": {"field": "grp", "type": "nominal", "scale": {"range": ["#FF0000","#0000FF"]},
         "legend": {"orient": "none", "legendX": 102, "legendY": -22, "direction": "horizontal", "title": "Risk", "titleOrient": "left", "titleFontSize": 10, "titleFontWeight": "normal", "labelFontSize": 10, "symbolType": "square", "symbolSize": 225, "symbolOpacity": 0.3, "symbolStrokeWidth": 0, "columnPadding": 6, "labelOffset": 5, "titlePadding": 7, "padding": 0}}
      }},
     {"data": {"name": "km"}, "mark": {"type": "line", "interpolate": "step-after", "strokeWidth": 1.5},
      "encoding": {
       "x": {"field": "t", "type": "quantitative"},
       "y": {"field": "s", "type": "quantitative"},
       "stroke": {"field": "grp", "type": "nominal", "scale": {"domain": ["High risk","Low risk"], "range": ["#FF0000","#0000FF"]},
         "legend": {"orient": "none", "legendX": 128.4, "legendY": -22, "direction": "horizontal", "title": null, "labelExpr": "''", "labelFontSize": 10, "symbolType": "M-1,0H1M0,-0.45V0.45", "symbolSize": 225, "symbolStrokeWidth": 2, "columnPadding": 50, "labelOffset": 0, "padding": 0}}
      }},
     {"data": {"name": "cens"}, "mark": {"type": "point", "shape": "M-1,0H1M0,-1V1", "size": 30, "filled": false, "strokeWidth": 1.2, "opacity": 1},
      "encoding": {
       "x": {"field": "t", "type": "quantitative"},
       "y": {"field": "s", "type": "quantitative"},
       "stroke": {"field": "grp", "type": "nominal", "legend": null}
      }},
     {"data": {"name": "caxes"}, "mark": {"type": "rule", "color": "black", "strokeWidth": 1},
      "encoding": {
       "x": {"field": "t", "type": "quantitative",
         "axis": {"values": [0,1,2,3,4,5,6,7,8,9,10], "title": "Time(years)", "titleX": 177, "domain": false, "tickSize": 4, "labelPadding": 2, "labelFontSize": 12, "titleFontSize": 14, "titlePadding": 4}},
       "x2": {"field": "t2"},
       "y": {"field": "s", "type": "quantitative",
         "axis": {"values": [0,0.25,0.5,0.75,1], "format": ".2f", "title": "Survival probability", "offset": -19, "domain": false, "tickSize": 4, "labelPadding": 2, "labelFontSize": 12, "titleFontSize": 15, "titlePadding": 26}},
       "y2": {"field": "s2"}
      }},
     {"data": {"name": "labels"}, "transform": [{"filter": "datum.lab == 'p=2.391e-04'"}], "mark": {"type": "text", "align": "left", "baseline": "middle", "fontSize": 11.5, "color": "black"},
      "encoding": {"x": {"field": "t", "type": "quantitative"}, "y": {"field": "s", "type": "quantitative"}, "text": {"field": "lab"}}},
     {"data": {"name": "labels"}, "transform": [{"filter": "datum.lab == 'C'"}], "mark": {"type": "text", "align": "left", "baseline": "alphabetic", "fontSize": 15, "color": "black"},
      "encoding": {"x": {"field": "t", "type": "quantitative"}, "y": {"field": "s", "type": "quantitative"}, "text": {"field": "lab"}}}
    ]
   },
   {
    "width": 339, "height": 26,
    "layer": [
     {"data": {"name": "risk"}, "mark": {"type": "text", "fontSize": 13, "color": "black"},
      "encoding": {
       "x": {"field": "t", "type": "quantitative", "scale": {"domain": [-1.155, 10.71], "nice": false, "zero": false},
         "axis": {"values": [0,1,2,3,4,5,6,7,8,9,10], "title": "Time(years)", "titleX": 177, "domain": false, "tickSize": 4, "labelPadding": 4, "labelFontSize": 12, "titleFontSize": 14, "titlePadding": 2}},
       "y": {"field": "row", "type": "quantitative", "scale": {"domain": [0.571, 2.43], "reverse": true, "nice": false, "zero": false},
         "axis": {"values": [1,2], "labelExpr": "datum.value == 1 ? 'High risk' : 'Low risk'", "labelColor": {"condition": {"test": "datum.value == 1", "value": "#FF0000"}, "value": "#0000FF"}, "title": "Risk", "offset": -19, "domain": false, "tickSize": 4, "labelPadding": 2, "labelFontSize": 11.5, "titleFontSize": 13, "titlePadding": 4}},
       "text": {"field": "n", "type": "quantitative"}
      }},
     {"data": {"name": "taxes"}, "mark": {"type": "rule", "color": "black", "strokeWidth": 1},
      "encoding": {
       "x": {"field": "t", "type": "quantitative",
         "axis": {"values": [0,1,2,3,4,5,6,7,8,9,10], "title": "Time(years)", "titleX": 177, "domain": false, "tickSize": 4, "labelPadding": 4, "labelFontSize": 12, "titleFontSize": 14, "titlePadding": 2}},
       "x2": {"field": "t2"},
       "y": {"field": "row", "type": "quantitative",
         "axis": {"values": [1,2], "labelExpr": "datum.value == 1 ? 'High risk' : 'Low risk'", "labelColor": {"condition": {"test": "datum.value == 1", "value": "#FF0000"}, "value": "#0000FF"}, "title": "Risk", "offset": -19, "domain": false, "tickSize": 4, "labelPadding": 2, "labelFontSize": 11.5, "titleFontSize": 13, "titlePadding": 4}},
       "y2": {"field": "row2"}
      }}
    ]
   }
  ]},
  {
   "width": 311, "height": 289,
   "view": {"stroke": "black", "strokeWidth": 1},
   "layer": [
    {"data": {"name": "diag"}, "mark": {"type": "line", "color": "black", "strokeWidth": 1, "clip": true},
     "encoding": {
      "x": {"field": "fp", "type": "quantitative", "scale": {"domain": [-0.039, 1.04], "nice": false, "zero": false},
        "axis": {"values": [0,0.2,0.4,0.6,0.8,1], "format": ".1f", "title": "False positive rate", "domain": false, "tickSize": 7, "labelFontSize": 13.5, "labelPadding": 8, "titleFontSize": 13.5, "titlePadding": 14, "labelOverlap": false}},
      "y": {"field": "tp", "type": "quantitative", "scale": {"domain": [-0.037, 1.04], "nice": false, "zero": false},
        "axis": {"values": [0,0.2,0.4,0.6,0.8,1], "format": ".1f", "title": "True positive rate", "domain": false, "tickSize": 7, "labelAngle": -90, "labelAlign": "center", "labelBaseline": "bottom", "labelFontSize": 13.5, "labelPadding": 10, "titleFontSize": 13.5, "titlePadding": 15, "labelOverlap": false}}
     }},
    {"data": {"name": "roc"}, "mark": {"type": "line", "color": "#FF0000", "strokeWidth": 1.5},
     "encoding": {"x": {"field": "fp", "type": "quantitative"}, "y": {"field": "tp", "type": "quantitative"}}},
    {"data": {"name": "labels"}, "transform": [{"filter": "datum.lab == 'D'"}], "mark": {"type": "text", "align": "left", "baseline": "alphabetic", "fontSize": 15, "color": "black"},
     "encoding": {"x": {"field": "fp", "type": "quantitative"}, "y": {"field": "tp", "type": "quantitative"}, "text": {"field": "lab"}}},
    {"data": {"name": "labels"}, "transform": [{"filter": "indexof(datum.lab, 'ROC') == 0"}], "mark": {"type": "text", "align": "center", "baseline": "alphabetic", "fontSize": 15.5, "fontWeight": "bold", "color": "black"},
     "encoding": {"x": {"field": "fp", "type": "quantitative"}, "y": {"field": "tp", "type": "quantitative"}, "text": {"field": "lab"}}}
   ]
  }
 ]}
]
}
